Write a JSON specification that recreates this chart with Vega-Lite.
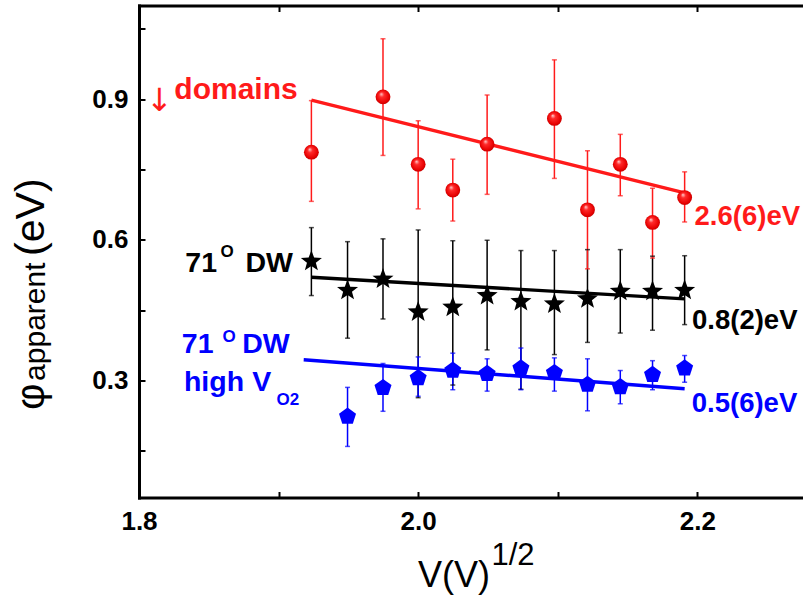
{
  "$schema": "https://vega.github.io/schema/vega-lite/v6.json",
  "width": 664,
  "height": 492,
  "autosize": "none",
  "padding": {"left": 139, "top": 5.5, "right": 0, "bottom": 103.5},
  "background": "white",
  "config": {"view": {"stroke": null}, "font": "Liberation Sans", "axis": {"grid": false}},
  "datasets": {
    "pts": [
      {"s": "k", "x": 1.9235, "y": 0.554, "lo": 0.481, "hi": 0.626},
      {"s": "k", "x": 1.9494, "y": 0.492, "lo": 0.390, "hi": 0.596},
      {"s": "k", "x": 1.9748, "y": 0.516, "lo": 0.431, "hi": 0.602},
      {"s": "k", "x": 2.0, "y": 0.446, "lo": 0.263, "hi": 0.621},
      {"s": "k", "x": 2.0248, "y": 0.456, "lo": 0.290, "hi": 0.598},
      {"s": "k", "x": 2.0494, "y": 0.481, "lo": 0.365, "hi": 0.599},
      {"s": "k", "x": 2.0736, "y": 0.468, "lo": 0.281, "hi": 0.577},
      {"s": "k", "x": 2.0976, "y": 0.463, "lo": 0.355, "hi": 0.577},
      {"s": "k", "x": 2.1213, "y": 0.474, "lo": 0.381, "hi": 0.579},
      {"s": "k", "x": 2.1448, "y": 0.490, "lo": 0.401, "hi": 0.579},
      {"s": "k", "x": 2.1679, "y": 0.490, "lo": 0.407, "hi": 0.565},
      {"s": "k", "x": 2.1909, "y": 0.492, "lo": 0.419, "hi": 0.566},
      {"s": "r", "x": 1.9235, "y": 0.787, "lo": 0.682, "hi": 0.897},
      {"s": "r", "x": 1.9748, "y": 0.905, "lo": 0.780, "hi": 1.029},
      {"s": "r", "x": 2.0, "y": 0.761, "lo": 0.666, "hi": 0.854},
      {"s": "r", "x": 2.0248, "y": 0.706, "lo": 0.640, "hi": 0.772},
      {"s": "r", "x": 2.0494, "y": 0.804, "lo": 0.697, "hi": 0.909},
      {"s": "r", "x": 2.0976, "y": 0.859, "lo": 0.731, "hi": 0.984},
      {"s": "r", "x": 2.1213, "y": 0.664, "lo": 0.538, "hi": 0.790},
      {"s": "r", "x": 2.1448, "y": 0.761, "lo": 0.694, "hi": 0.825},
      {"s": "r", "x": 2.1679, "y": 0.637, "lo": 0.561, "hi": 0.710},
      {"s": "r", "x": 2.1909, "y": 0.690, "lo": 0.638, "hi": 0.745},
      {"s": "b", "x": 1.9494, "y": 0.223, "lo": 0.159, "hi": 0.285},
      {"s": "b", "x": 1.9748, "y": 0.284, "lo": 0.234, "hi": 0.336},
      {"s": "b", "x": 2.0, "y": 0.305, "lo": 0.266, "hi": 0.350},
      {"s": "b", "x": 2.0248, "y": 0.321, "lo": 0.280, "hi": 0.358},
      {"s": "b", "x": 2.0494, "y": 0.314, "lo": 0.277, "hi": 0.346},
      {"s": "b", "x": 2.0736, "y": 0.326, "lo": 0.280, "hi": 0.369},
      {"s": "b", "x": 2.0976, "y": 0.316, "lo": 0.277, "hi": 0.348},
      {"s": "b", "x": 2.1213, "y": 0.291, "lo": 0.235, "hi": 0.346},
      {"s": "b", "x": 2.1448, "y": 0.286, "lo": 0.250, "hi": 0.321},
      {"s": "b", "x": 2.1679, "y": 0.312, "lo": 0.280, "hi": 0.342},
      {"s": "b", "x": 2.1909, "y": 0.326, "lo": 0.296, "hi": 0.353}
    ],
    "fits": [
      {"s": "r", "x": 1.9235, "y": 0.898},
      {"s": "r", "x": 2.1909, "y": 0.700},
      {"s": "k", "x": 1.9235, "y": 0.520},
      {"s": "k", "x": 2.1909, "y": 0.474},
      {"s": "b", "x": 1.918, "y": 0.344},
      {"s": "b", "x": 2.1909, "y": 0.282}
    ],
    "dom": [{"s": "r", "t": "domains", "x": 1.8253, "y": 0.900}],
    "lab": [
      {"s": "k", "t": "71", "x": 1.8332, "y": 0.532},
      {"s": "k", "t": "DW", "x": 1.8763, "y": 0.532},
      {"s": "b", "t": "71", "x": 1.8307, "y": 0.359},
      {"s": "b", "t": "DW", "x": 1.874, "y": 0.359},
      {"s": "b", "t": "high", "x": 1.8322, "y": 0.278},
      {"s": "b", "t": "V", "x": 1.8812, "y": 0.278}
    ],
    "rlab": [
      {"s": "r", "t": "2.6(6)eV", "x": 2.198, "y": 0.632},
      {"s": "k", "t": "0.8(2)eV", "x": 2.1962, "y": 0.410},
      {"s": "b", "t": "0.5(6)eV", "x": 2.196, "y": 0.232}
    ],
    "sup": [
      {"s": "k", "t": "O", "x": 1.8584, "y": 0.564},
      {"s": "b", "t": "O", "x": 1.8598, "y": 0.3825},
      {"s": "b", "t": "O2", "x": 1.8985, "y": 0.248}
    ],
    "arrow": [{"t": "↓", "x": 1.8146, "y": 0.8748}],
    "xtitle": [{"t": "V(V)", "x": 2.0515, "y": -0.140}],
    "xsup": [{"t": "1/2", "x": 2.0525, "y": -0.095}],
    "ytitle": [
      {"t": "φ", "x": 1.7322, "y": 0.237},
      {"t": "(eV)", "x": 1.7319, "y": 0.5656}
    ],
    "ysub": [{"t": "apparent", "x": 1.7327, "y": 0.2988}]
  },
  "resolve": {"axis": {"x": "independent", "y": "independent"}},
  "layer": [
    {
      "layer": [
        {
          "data": {"name": "pts"},
          "mark": {"type": "rule", "strokeWidth": 1.5},
          "encoding": {
            "x": {"field": "x", "type": "quantitative", "scale": {"domain": [1.8, 2.2757], "nice": false}, "title": null,
              "axis": {"orient": "bottom", "values": [1.8, 1.9, 2.0, 2.1, 2.2],
                "labelExpr": "abs(datum.value*5-round(datum.value*5))<0.01 ? format(datum.value,'.1f') : ''",
                "labelFont": "Liberation Sans", "labelFontSize": 26, "labelFontWeight": "bold", "labelColor": "black",
                "labelFlush": false, "labelOverlap": false, "labelPadding": 17,
                "tickSize": -6, "tickWidth": 2, "tickColor": "black",
                "domainWidth": 3, "domainColor": "black", "domainCap": "square", "grid": false, "title": null}},
            "y": {"field": "lo", "type": "quantitative", "scale": {"domain": [0.05, 1.1], "nice": false}, "title": null,
              "axis": {"orient": "left", "values": [0.15, 0.3, 0.45, 0.6, 0.75, 0.9, 1.05],
                "labelExpr": "abs(datum.value*10-round(datum.value*10))<0.01 ? format(datum.value,'.1f') : ''",
                "labelFont": "Liberation Sans", "labelFontSize": 26, "labelFontWeight": "bold", "labelColor": "black",
                "labelFlush": false, "labelOverlap": false, "labelPadding": 17,
                "tickSize": -6, "tickWidth": 2, "tickColor": "black",
                "domainWidth": 3, "domainColor": "black", "domainCap": "square", "grid": false, "title": null}},
            "y2": {"field": "hi"},
            "color": {"field": "s", "type": "nominal", "scale": {"domain": ["r", "k", "b"], "range": ["#ff1a1a", "#000000", "#0000ff"]}, "legend": null}
          }
        },
        {
          "data": {"name": "pts"},
          "mark": {"type": "tick", "orient": "horizontal", "size": 5, "thickness": 1.5},
          "encoding": {
            "x": {"field": "x", "type": "quantitative", "scale": {"domain": [1.8, 2.2757], "nice": false}, "title": null},
            "y": {"field": "lo", "type": "quantitative", "scale": {"domain": [0.05, 1.1], "nice": false}, "title": null},
            "color": {"field": "s", "type": "nominal", "scale": {"domain": ["r", "k", "b"], "range": ["#ff1a1a", "#000000", "#0000ff"]}, "legend": null}
          }
        },
        {
          "data": {"name": "pts"},
          "mark": {"type": "tick", "orient": "horizontal", "size": 5, "thickness": 1.5},
          "encoding": {
            "x": {"field": "x", "type": "quantitative", "scale": {"domain": [1.8, 2.2757], "nice": false}, "title": null},
            "y": {"field": "hi", "type": "quantitative", "scale": {"domain": [0.05, 1.1], "nice": false}, "title": null},
            "color": {"field": "s", "type": "nominal", "scale": {"domain": ["r", "k", "b"], "range": ["#ff1a1a", "#000000", "#0000ff"]}, "legend": null}
          }
        },
        {
          "data": {"name": "fits"},
          "mark": {"type": "line", "strokeWidth": 3.4},
          "encoding": {
            "x": {"field": "x", "type": "quantitative", "scale": {"domain": [1.8, 2.2757], "nice": false}, "title": null},
            "y": {"field": "y", "type": "quantitative", "scale": {"domain": [0.05, 1.1], "nice": false}, "title": null},
            "color": {"field": "s", "type": "nominal", "scale": {"domain": ["r", "k", "b"], "range": ["#ff1a1a", "#000000", "#0000ff"]}, "legend": null}
          }
        },
        {
          "data": {"name": "pts"},
          "transform": [{"filter": "datum.s == 'r'"}],
          "mark": {"type": "point", "filled": true, "size": 220, "opacity": 1, "strokeWidth": 0,
            "fill": {"gradient": "radial", "x1": 0.38, "y1": 0.3, "r1": 0, "x2": 0.5, "y2": 0.5, "r2": 0.55,
              "stops": [{"offset": 0, "color": "#ffd6d6"}, {"offset": 0.3, "color": "#ff2a2a"}, {"offset": 0.8, "color": "#e60000"}, {"offset": 1, "color": "#b00000"}]}},
          "encoding": {
            "x": {"field": "x", "type": "quantitative", "scale": {"domain": [1.8, 2.2757], "nice": false}, "title": null},
            "y": {"field": "y", "type": "quantitative", "scale": {"domain": [0.05, 1.1], "nice": false}, "title": null}
          }
        },
        {
          "data": {"name": "pts"},
          "transform": [{"filter": "datum.s == 'k'"}],
          "mark": {"type": "point", "filled": true, "size": 490, "opacity": 1, "strokeWidth": 0, "fill": "#000000",
            "shape": "M0,-1L0.247,-0.34L0.951,-0.309L0.4,0.13L0.588,0.809L0,0.42L-0.588,0.809L-0.4,0.13L-0.951,-0.309L-0.247,-0.34Z"},
          "encoding": {
            "x": {"field": "x", "type": "quantitative", "scale": {"domain": [1.8, 2.2757], "nice": false}, "title": null},
            "y": {"field": "y", "type": "quantitative", "scale": {"domain": [0.05, 1.1], "nice": false}, "title": null}
          }
        },
        {
          "data": {"name": "pts"},
          "transform": [{"filter": "datum.s == 'b'"}],
          "mark": {"type": "point", "filled": true, "size": 320, "opacity": 1, "strokeWidth": 0, "fill": "#0000ff",
            "shape": "M0,-1L0.951,-0.309L0.588,0.809L-0.588,0.809L-0.951,-0.309Z"},
          "encoding": {
            "x": {"field": "x", "type": "quantitative", "scale": {"domain": [1.8, 2.2757], "nice": false}, "title": null},
            "y": {"field": "y", "type": "quantitative", "scale": {"domain": [0.05, 1.1], "nice": false}, "title": null}
          }
        },
        {
          "data": {"name": "dom"},
          "mark": {"type": "text", "align": "left", "baseline": "alphabetic", "font": "Liberation Sans", "fontSize": 30, "fontWeight": "bold"},
          "encoding": {
            "x": {"field": "x", "type": "quantitative", "scale": {"domain": [1.8, 2.2757], "nice": false}, "title": null},
            "y": {"field": "y", "type": "quantitative", "scale": {"domain": [0.05, 1.1], "nice": false}, "title": null},
            "text": {"field": "t"},
            "color": {"field": "s", "type": "nominal", "scale": {"domain": ["r", "k", "b"], "range": ["#ff1a1a", "#000000", "#0000ff"]}, "legend": null}
          }
        },
        {
          "data": {"name": "lab"},
          "mark": {"type": "text", "align": "left", "baseline": "alphabetic", "font": "Liberation Sans", "fontSize": 28.5, "fontWeight": "bold"},
          "encoding": {
            "x": {"field": "x", "type": "quantitative", "scale": {"domain": [1.8, 2.2757], "nice": false}, "title": null},
            "y": {"field": "y", "type": "quantitative", "scale": {"domain": [0.05, 1.1], "nice": false}, "title": null},
            "text": {"field": "t"},
            "color": {"field": "s", "type": "nominal", "scale": {"domain": ["r", "k", "b"], "range": ["#ff1a1a", "#000000", "#0000ff"]}, "legend": null}
          }
        },
        {
          "data": {"name": "rlab"},
          "mark": {"type": "text", "align": "left", "baseline": "alphabetic", "font": "Liberation Sans", "fontSize": 27.5, "fontWeight": "bold"},
          "encoding": {
            "x": {"field": "x", "type": "quantitative", "scale": {"domain": [1.8, 2.2757], "nice": false}, "title": null},
            "y": {"field": "y", "type": "quantitative", "scale": {"domain": [0.05, 1.1], "nice": false}, "title": null},
            "text": {"field": "t"},
            "color": {"field": "s", "type": "nominal", "scale": {"domain": ["r", "k", "b"], "range": ["#ff1a1a", "#000000", "#0000ff"]}, "legend": null}
          }
        },
        {
          "data": {"name": "sup"},
          "mark": {"type": "text", "align": "left", "baseline": "alphabetic", "font": "Liberation Sans", "fontSize": 17, "fontWeight": "bold"},
          "encoding": {
            "x": {"field": "x", "type": "quantitative", "scale": {"domain": [1.8, 2.2757], "nice": false}, "title": null},
            "y": {"field": "y", "type": "quantitative", "scale": {"domain": [0.05, 1.1], "nice": false}, "title": null},
            "text": {"field": "t"},
            "color": {"field": "s", "type": "nominal", "scale": {"domain": ["r", "k", "b"], "range": ["#ff1a1a", "#000000", "#0000ff"]}, "legend": null}
          }
        },
        {
          "data": {"name": "arrow"},
          "mark": {"type": "text", "align": "center", "baseline": "alphabetic", "font": "DejaVu Sans", "fontSize": 32, "color": "#ff1a1a"},
          "encoding": {
            "x": {"field": "x", "type": "quantitative", "scale": {"domain": [1.8, 2.2757], "nice": false}, "title": null},
            "y": {"field": "y", "type": "quantitative", "scale": {"domain": [0.05, 1.1], "nice": false}, "title": null},
            "text": {"field": "t"}
          }
        },
        {
          "data": {"name": "xtitle"},
          "mark": {"type": "text", "align": "right", "baseline": "alphabetic", "font": "Liberation Sans", "fontSize": 36, "color": "#000000"},
          "encoding": {
            "x": {"field": "x", "type": "quantitative", "scale": {"domain": [1.8, 2.2757], "nice": false}, "title": null},
            "y": {"field": "y", "type": "quantitative", "scale": {"domain": [0.05, 1.1], "nice": false}, "title": null},
            "text": {"field": "t"}
          }
        },
        {
          "data": {"name": "xsup"},
          "mark": {"type": "text", "align": "left", "baseline": "alphabetic", "font": "Liberation Sans", "fontSize": 31, "color": "#000000"},
          "encoding": {
            "x": {"field": "x", "type": "quantitative", "scale": {"domain": [1.8, 2.2757], "nice": false}, "title": null},
            "y": {"field": "y", "type": "quantitative", "scale": {"domain": [0.05, 1.1], "nice": false}, "title": null},
            "text": {"field": "t"}
          }
        },
        {
          "data": {"name": "ytitle"},
          "mark": {"type": "text", "align": "left", "baseline": "alphabetic", "angle": 270, "font": "Liberation Sans", "fontSize": 41, "color": "#000000"},
          "encoding": {
            "x": {"field": "x", "type": "quantitative", "scale": {"domain": [1.8, 2.2757], "nice": false}, "title": null},
            "y": {"field": "y", "type": "quantitative", "scale": {"domain": [0.05, 1.1], "nice": false}, "title": null},
            "text": {"field": "t"}
          }
        },
        {
          "data": {"name": "ysub"},
          "mark": {"type": "text", "align": "left", "baseline": "alphabetic", "angle": 270, "font": "Liberation Sans", "fontSize": 30, "color": "#000000"},
          "encoding": {
            "x": {"field": "x", "type": "quantitative", "scale": {"domain": [1.8, 2.2757], "nice": false}, "title": null},
            "y": {"field": "y", "type": "quantitative", "scale": {"domain": [0.05, 1.1], "nice": false}, "title": null},
            "text": {"field": "t"}
          }
        }
      ]
    },
    {
      "data": {"name": "fits"},
      "mark": {"type": "point", "opacity": 0},
      "encoding": {
        "x": {"field": "x", "type": "quantitative", "scale": {"domain": [1.8, 2.2757], "nice": false}, "title": null,
          "axis": {"orient": "top", "values": [1.8, 1.9, 2.0, 2.1, 2.2], "labels": false,
            "tickSize": -6, "tickWidth": 2, "tickColor": "black",
            "domainWidth": 3, "domainColor": "black", "domainCap": "square", "grid": false, "title": null}},
        "y": {"field": "y", "type": "quantitative", "scale": {"domain": [0.05, 1.1], "nice": false}, "title": null, "axis": null}
      }
    }
  ]
}
